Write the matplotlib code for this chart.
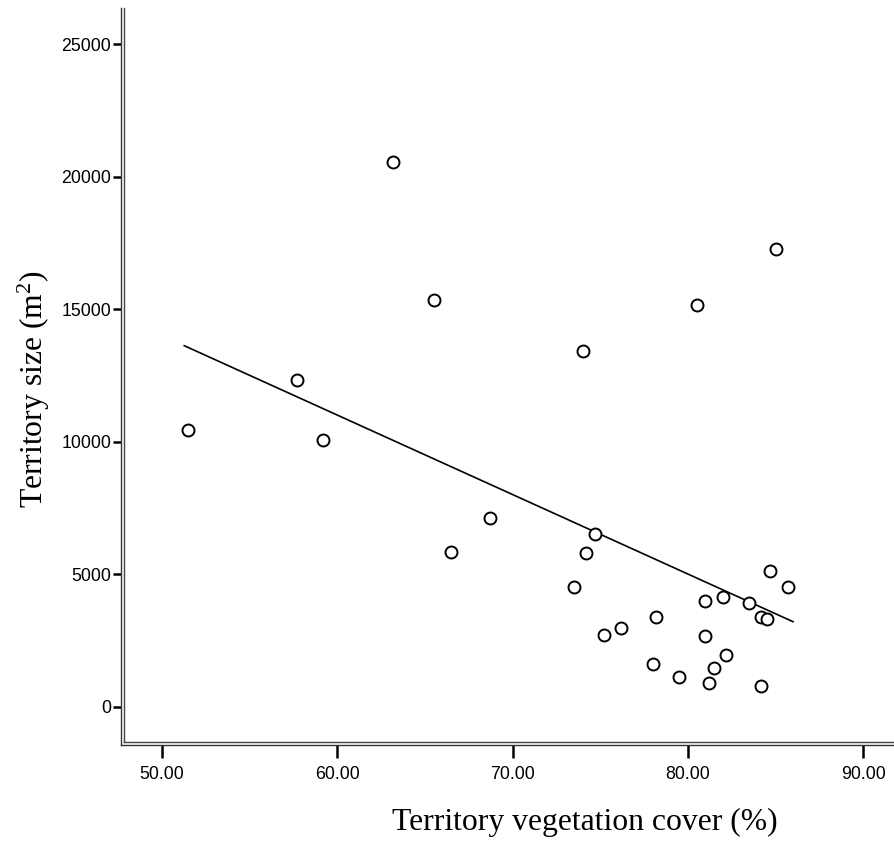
import matplotlib
matplotlib.use("Agg")
import matplotlib.pyplot as plt
from matplotlib.lines import Line2D

plt.rcParams["mathtext.fontset"] = "custom"
plt.rcParams["mathtext.rm"] = "Liberation Serif"
plt.rcParams["mathtext.it"] = "Liberation Serif"

# Data
veg_cover = [51.5, 57.7, 59.2, 63.2, 65.5, 66.5, 68.7, 73.5, 74.0, 74.2,
             74.7, 75.2, 76.2, 78.0, 78.2, 79.5, 80.5, 81.0, 81.0, 81.2,
             81.5, 82.0, 82.2, 83.5, 84.2, 84.2, 84.5, 84.7, 85.0, 85.7]
territory_size = [10443, 12341, 10054, 20546, 15361, 5850, 7133, 4518, 13424, 5812,
                  6507, 2717, 2982, 1600, 3397, 1121, 15149, 3978, 2680, 883,
                  1461, 4129, 1940, 3925, 3397, 793, 3299, 5133, 17263, 4518]
fit_x = [51.27, 86.0]
fit_y = [13625, 3208]
x_ticks = [50, 60, 70, 80, 90]
x_tick_labels = ["50.00", "60.00", "70.00", "80.00", "90.00"]
y_ticks = [0, 5000, 10000, 15000, 20000, 25000]
y_tick_labels = ["0", "5000", "10000", "15000", "20000", "25000"]

W, H = 894, 841
fig = plt.figure(figsize=(W / 100, H / 100), dpi=100)
ax_l, ax_r, ax_t, ax_b = 121, 894, 8, 745.3
ax = fig.add_axes([ax_l / W, (H - ax_b) / H, (ax_r - ax_l) / W, (ax_b - ax_t) / H])

ax.plot(fit_x, fit_y, color="black", lw=1.2, zorder=2)
ax.plot(veg_cover, territory_size, linestyle="none", marker="o", markersize=8.6,
        markerfacecolor="white", markeredgecolor="black", markeredgewidth=1.4, zorder=3)

ax.set_xlim(47.66, 91.76)
ax.set_ylim(-1457, 26371)

ax.set_xticks(x_ticks)
ax.set_xticklabels(x_tick_labels, fontfamily="Liberation Sans", fontsize=12.8)
ax.set_yticks(y_ticks)
ax.set_yticklabels(y_tick_labels, fontfamily="Liberation Sans", fontsize=12.8)
ax.tick_params(axis="x", direction="out", length=9, width=1.8, pad=6)
ax.tick_params(axis="y", direction="out", length=6, width=1.8, pad=1)

for s in ["top", "right"]:
    ax.spines[s].set_visible(False)
for s in ["left", "bottom"]:
    ax.spines[s].set_color("#333333")
    ax.spines[s].set_linewidth(1.0)

# inner double line (SPSS style)
dx = 2.6 / (ax_r - ax_l)
dy = 3.3 / (ax_b - ax_t)
ax.add_line(Line2D([dx, dx], [dy, 1.0], transform=ax.transAxes, color="#444444",
                   lw=1.0, clip_on=False))
ax.add_line(Line2D([dx, 1.0], [dy, dy], transform=ax.transAxes, color="#444444",
                   lw=1.0, clip_on=False))

fig.text(585 / W, 1 - 830 / H, "Territory vegetation cover (%)", fontfamily="Liberation Serif",
         fontsize=22.8, ha="center", va="baseline")
fig.text(43 / W, 1 - 389 / H, "Territory size (m$^2$)", fontfamily="Liberation Serif",
         fontsize=22.8, ha="center", va="baseline", rotation=90, rotation_mode="anchor")

fig.savefig("out.png", dpi=100, facecolor="white")
